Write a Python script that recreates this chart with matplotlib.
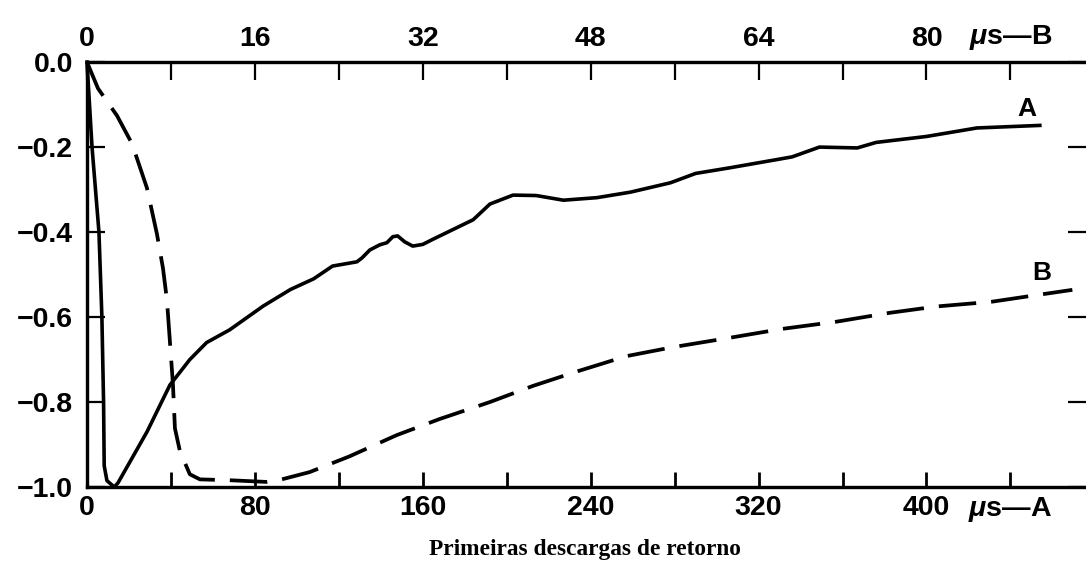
import matplotlib
matplotlib.use("Agg")
import matplotlib.pyplot as plt

# curva A (escala inferior, us)
a_t = [0, 2.4, 5.7, 7.1, 7.9, 8.2, 9.5, 13, 14.8, 28.6, 39.5, 49, 57, 68, 84, 97, 108,
       117, 128.6, 131, 134.8, 139.5, 142.9, 145.7, 148, 151.4, 155.2, 160, 164.8,
       184, 192, 203, 214, 227, 243, 259, 278, 290, 306, 328, 336, 349, 367, 376,
       400, 424, 454]
a_v = [0, -0.2, -0.4, -0.6, -0.8, -0.95, -0.985, -1.0, -0.99, -0.87, -0.76, -0.70, -0.66,
       -0.63, -0.574, -0.535, -0.51, -0.48, -0.47, -0.461, -0.442, -0.43, -0.425, -0.411,
       -0.409, -0.423, -0.433, -0.429, -0.417, -0.371, -0.334, -0.313, -0.314, -0.325,
       -0.319, -0.306, -0.284, -0.262, -0.249, -0.23, -0.223, -0.2, -0.202, -0.189,
       -0.175, -0.155, -0.149]

# curva B (escala superior, us)
b_t = [0, 1.05, 2.86, 4.29, 5.71, 6.67, 7.24, 7.62, 7.9, 8.19, 8.38, 8.86, 9.8, 10.76,
       13.6, 17.1, 18.4, 21.2, 25, 29.5, 33.6, 38.4, 42.5, 46.7, 51.4, 55.8, 61.2, 66.2,
       71.4, 76.5, 81, 86.2, 90.3, 93.9]
b_v = [0, -0.062, -0.126, -0.192, -0.296, -0.405, -0.485, -0.56, -0.657, -0.758, -0.862,
       -0.916, -0.97, -0.982, -0.984, -0.988, -0.983, -0.965, -0.928, -0.878, -0.84, -0.80,
       -0.762, -0.728, -0.692, -0.671, -0.649, -0.628, -0.611, -0.59, -0.575, -0.564,
       -0.549, -0.536]

y_ticks = [0.0, -0.2, -0.4, -0.6, -0.8, -1.0]
y_labels = ["0.0", "\u22120.2", "\u22120.4", "\u22120.6", "\u22120.8", "\u22121.0"]
a_ticks = list(range(0, 441, 40))
a_labels = ["0", "", "80", "", "160", "", "240", "", "320", "", "400", r"$\mu$s\u2014A"]
b_ticks = list(range(0, 89, 8))
b_labels = ["0", "", "16", "", "32", "", "48", "", "64", "", "80", r"$\mu$s\u2014B"]
a_labels[-1] = a_labels[-1].replace("\\u2014", "\u2014")
b_labels[-1] = b_labels[-1].replace("\\u2014", "\u2014")

plt.rcParams['font.family'] = ['Liberation Sans', 'DejaVu Sans']
plt.rcParams['font.weight'] = 'bold'
plt.rcParams['mathtext.fontset'] = 'custom'
plt.rcParams['mathtext.it'] = 'Liberation Sans:italic:bold'
plt.rcParams['mathtext.rm'] = 'Liberation Sans:bold'

fig = plt.figure(figsize=(10.86, 5.75), dpi=100)
ax = fig.add_axes([0.0801, 0.153, 0.9199, 0.739])
x_max = 476
ax.set_xlim(0, x_max)
ax.set_ylim(-1.0, 0.0)

ax.plot(a_t, a_v, color='black', lw=2.6, solid_joinstyle='round', clip_on=False)
ax.text(448, -0.11, "A", fontsize=19, ha='center', va='center')

ax.set_yticks(y_ticks)
ax.set_yticklabels(y_labels, fontsize=20.5)
ax.set_xticks(a_ticks)
ax.set_xticklabels(a_labels, fontsize=20.5)
ax.tick_params(axis='y', left=True, right=True, direction='in', length=13, width=1.6, pad=10)
ax.tick_params(axis='x', direction='in', length=11, width=2, pad=6)
ax.spines['right'].set_visible(False)
for s in ['left', 'bottom', 'top']:
    ax.spines[s].set_linewidth(2.3)

axB = ax.twiny()
axB.set_xlim(0, x_max / 5)
axB.plot(b_t, b_v, color='black', lw=2.7, dashes=(10, 4), clip_on=False)
axB.text(91, -0.497, "B", fontsize=19, ha='center', va='center')
axB.set_xticks(b_ticks)
axB.set_xticklabels(b_labels, fontsize=20.5)
axB.tick_params(axis='x', direction='in', length=13, width=1.6, pad=7)
axB.spines['right'].set_visible(False)
for s in ['left', 'bottom', 'top']:
    axB.spines[s].set_linewidth(2.3)

fig.text(0.539, 1 - 549 / 575, "Primeiras descargas de retorno",
         family='Liberation Serif', weight='bold', fontsize=16.8, ha='center', va='center')

fig.savefig("out.png", dpi=100)
